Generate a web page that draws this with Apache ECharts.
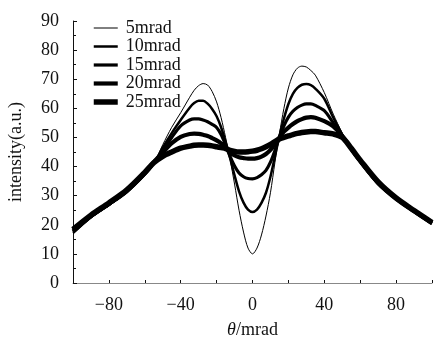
<!DOCTYPE html>
<html>
<head>
<meta charset="utf-8">
<script src="https://cdn.jsdelivr.net/npm/echarts@6/dist/echarts.min.js"></script>
<style>
  html, body {margin: 0; padding: 0; background: #fff;}
  #chart {width: 435px; height: 340px;}
</style>
</head>
<body>
<div id="chart"></div>
<script>
// angle samples (mrad): coarse on the wings, 2.5 mrad steps in the middle
var theta = [-100, -90, -80, -70, -60, -55, -50, -45, -40,
  -35, -32.5, -30, -27.5, -25, -22.5, -20, -17.5, -15, -12.5, -10, -7.5, -5, -2.5, 0,
  2.5, 5, 7.5, 10, 12.5, 15, 17.5, 20, 22.5, 25, 27.5, 30, 32.5, 35,
  40, 45, 50, 55, 60, 70, 80, 90, 100];

var names = ['5mrad', '10mrad', '15mrad', '20mrad', '25mrad'];

var s5 = [16.8, 22.3, 26.5, 31, 37, 41, 47.5, 53.5, 58.5,
  63.8, 66.2, 67.8, 68.5, 68.0, 65.8, 62.2, 56.8, 50, 42.5, 34, 25, 17.5, 12, 10,
  12, 16.5, 23, 31, 41.5, 51.2, 60, 67, 71.5, 73.8, 74.5, 74.2, 73, 71.4,
  65.4, 58, 51.5, 45.6, 41.3, 33.8, 28.6, 24.3, 20.2];
var s10 = [17.2, 22.6, 26.8, 31.2, 37.2, 41, 46.5, 51.5, 56,
  60.2, 61.8, 62.6, 62.6, 61.6, 59.8, 57.3, 53.5, 48.5, 43, 37, 31.5, 27.6, 25.2, 24.4,
  25.2, 27.5, 31, 36.5, 43.5, 50.5, 56.5, 61.5, 65, 67, 68.1, 68.4, 68, 66.8,
  63.3, 56.8, 51, 45.8, 41.6, 34, 28.8, 24.5, 20.4];
var s15 = [17.6, 22.9, 27, 31.5, 37.5, 41.2, 45.5, 50, 54,
  56, 56.4, 56.4, 56, 55.4, 54.5, 53.4, 51, 47.5, 43.5, 40.2, 37.8, 36.5, 35.9, 35.8,
  36.2, 37.2, 38.7, 41.5, 45.5, 50, 54, 57, 59, 60.3, 61.1, 61.5, 61.5, 61,
  59.2, 55, 50.7, 46, 41.8, 34.2, 29, 24.6, 20.5];
var s20 = [18, 23.1, 27.2, 31.8, 37.8, 41.5, 44.8, 48, 50.2,
  51.2, 51.3, 51.2, 50.9, 50.5, 49.8, 49, 48, 46.5, 44.8, 43.8, 43.2, 42.9, 42.7, 42.7,
  42.9, 43.4, 44.3, 45.7, 47.8, 50, 52, 53.4, 54.6, 55.6, 56.3, 56.8, 57, 56.8,
  55.6, 53.8, 50.5, 46.2, 42, 34.5, 29.1, 24.7, 20.6];
var s25 = [18.4, 23.3, 27.5, 32, 38, 41.3, 43.5, 45, 46.3,
  47, 47.3, 47.4, 47.4, 47.3, 47.1, 46.8, 46.5, 46.2, 45.6, 45.2, 45, 45, 45.1, 45.3,
  45.6, 46.1, 46.8, 47.6, 48.6, 49.5, 50, 50.5, 51, 51.4, 51.7, 51.9, 52, 52,
  51.6, 51.2, 50, 46.3, 42.2, 34.7, 29.2, 24.9, 20.8];

var values = [s5, s10, s15, s20, s25];
var widths = [1, 2.5, 3.2, 4.2, 5.5];

var xTicks = [-80, -40, 0, 40, 80];

var font = 'Liberation Serif';

var myChart = echarts.init(document.getElementById('chart'));
myChart.setOption({
  animation: false,
  textStyle: {fontFamily: font},
  grid: {left: 73, right: 3, top: 21, bottom: 57, outerBoundsMode: 'none'},
  legend: {
    left: 86,
    top: 14,
    orient: 'vertical',
    itemGap: 0.5,
    itemWidth: 24,
    itemHeight: 14,
    itemStyle: {opacity: 0},
    textStyle: {fontFamily: font, fontSize: 18, color: '#111', padding: [0, 0, 0, 3]},
    data: names.map(function (n, k) {
      return {name: n, lineStyle: {width: widths[k], color: '#000'}};
    })
  },
  xAxis: {
    type: 'value',
    min: -100,
    max: 100,
    interval: 20,
    name: '{i|θ}/mrad',
    nameLocation: 'middle',
    nameGap: 38,
    nameTextStyle: {
      fontFamily: font, fontSize: 18, color: '#111',
      rich: {i: {fontFamily: font, fontStyle: 'italic', fontSize: 18, color: '#111'}}
    },
    axisLine: {onZero: false, lineStyle: {color: '#888', width: 1}},
    axisTick: {inside: true, length: 3, lineStyle: {color: '#111'}},
    splitLine: {show: false},
    axisLabel: {
      fontFamily: font, fontSize: 18, color: '#111', margin: 13,
      formatter: function (v) {
        if (xTicks.indexOf(v) < 0) return '';
        return v < 0 ? '\u2212' + Math.abs(v) : String(v);
      }
    }
  },
  yAxis: {
    type: 'value',
    min: 0,
    max: 90,
    interval: 10,
    name: 'intensity(a.u.)',
    nameLocation: 'middle',
    nameGap: 48,
    nameTextStyle: {fontFamily: font, fontSize: 18, color: '#111'},
    axisLine: {show: true, onZero: false, lineStyle: {color: '#111', width: 1}},
    axisTick: {inside: true, length: 4, lineStyle: {color: '#111'}},
    minorTick: {show: true, splitNumber: 2, length: 3, lineStyle: {color: '#111'}},
    splitLine: {show: false},
    axisLabel: {fontFamily: font, fontSize: 18, color: '#111', margin: 14}
  },
  series: names.map(function (n, k) {
    return {
      name: n,
      type: 'line',
      smooth: 0.3,
      symbol: 'none',
      data: theta.map(function (t, i) { return [t, values[k][i]]; }),
      lineStyle: {color: '#000', width: widths[k]},
      itemStyle: {color: '#000'}
    };
  })
});
</script>
</body>
</html>
